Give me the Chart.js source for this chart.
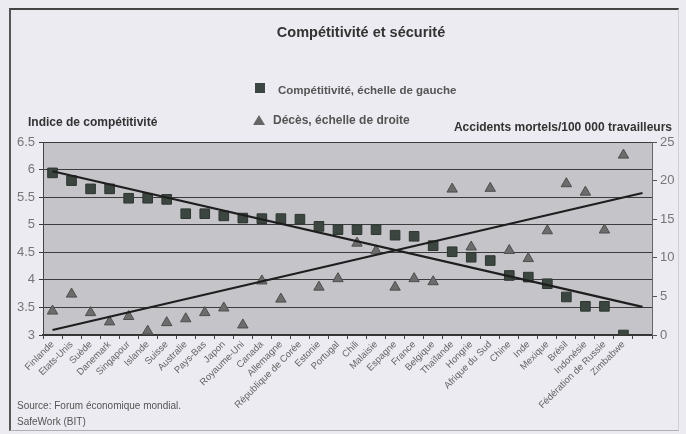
<!DOCTYPE html>
<html>
<head>
<meta charset="utf-8">
<script src="https://cdn.jsdelivr.net/npm/chart.js@4/dist/chart.umd.min.js"></script>
<style>
  html, body { margin: 0; padding: 0; background: #ebebf1; }
  #wrap { position: relative; width: 686px; height: 434px; }
  #frame { position: absolute; left: 9px; top: 8px; width: 667px; height: 420px;
           border-left: 2px solid #555; border-top: 2px solid #444;
           border-right: 1px solid #cfcfd4; border-bottom: 1px solid #b0b0b4; }
  canvas { position: absolute; left: 0; top: 0; }
</style>
</head>
<body>
<div id="wrap">
  <div id="frame"></div>
  <canvas id="myGraph" width="686" height="434"></canvas>
</div>
<script>
let countries = ['Finlande', 'Etats-Unis', 'Suède', 'Danemark', 'Singapour', 'Islande', 'Suisse',
  'Australie', 'Pays-Bas', 'Japon', 'Royaume-Uni', 'Canada', 'Allemagne', 'République de Corée',
  'Estonie', 'Portugal', 'Chili', 'Malaisie', 'Espagne', 'France', 'Belgique', 'Thaïlande',
  'Hongrie', 'Afrique du Sud', 'Chine', 'Inde', 'Mexique', 'Brésil', 'Indonésie',
  'Fédération de Russie', 'Zimbabwe', ''];

// indice de compétitivité (échelle de gauche)
let competitivite = [5.94, 5.80, 5.65, 5.65, 5.48, 5.48, 5.46, 5.20, 5.20, 5.16,
  5.12, 5.11, 5.11, 5.10, 4.97, 4.91, 4.91, 4.91, 4.81, 4.79, 4.62, 4.51,
  4.41, 4.35, 4.08, 4.05, 3.93, 3.69, 3.52, 3.52, 3.00];

// accidents mortels / 100 000 travailleurs (échelle de droite)
let deces = [3.1, 5.3, 2.9, 1.7, 2.4, 0.5, 1.6, 2.1, 2.9, 3.5,
  1.3, 7.0, 4.65, null, 6.2, 7.3, 11.9, 10.9, 6.2, 7.3, 6.9, 18.9,
  11.4, 19.0, 10.95, 9.9, 13.5, 19.6, 18.5, 13.6, 23.3];

// tendances linéaires : début et fin
let trendCompetitivite = [5.97, 3.51];
let trendDeces = [0.65, 18.4];

function trendLine(ends) {
  let arr = countries.map(() => null);
  arr[0] = ends[0];
  arr[arr.length - 1] = ends[1];
  return arr;
}

const FONT = '"Liberation Sans", Arial, sans-serif';

const decor = {
  id: 'decor',
  beforeDraw(chart) {
    const { ctx, chartArea: a } = chart;
    ctx.save();
    ctx.fillStyle = '#c4c4c9';
    ctx.fillRect(a.left, a.top, a.right - a.left, a.bottom - a.top);
    ctx.restore();
  },
  afterDraw(chart) {
    const ctx = chart.ctx;
    ctx.save();
    ctx.textBaseline = 'middle';
    // titre
    ctx.fillStyle = '#333';
    ctx.font = 'bold 14.5px ' + FONT;
    ctx.textAlign = 'center';
    ctx.fillText('Compétitivité et sécurité', 361, 33);
    // légende
    ctx.textAlign = 'left';
    ctx.fillStyle = '#3c4640';
    ctx.fillRect(255, 83, 10, 10);
    ctx.font = 'bold 11.5px ' + FONT;
    ctx.fillStyle = '#555';
    ctx.fillText('Compétitivité, échelle de gauche', 278, 91);
    ctx.fillStyle = '#666';
    ctx.beginPath();
    ctx.moveTo(259, 115); ctx.lineTo(265, 125); ctx.lineTo(253, 125); ctx.closePath();
    ctx.fill();
    ctx.fillStyle = '#555';
    ctx.font = 'bold 12px ' + FONT;
    ctx.fillText('Décès, échelle de droite', 273, 121);
    // titres des axes
    ctx.fillStyle = '#333';
    ctx.font = 'bold 12px ' + FONT;
    ctx.fillText('Indice de compétitivité', 28, 123);
    ctx.textAlign = 'right';
    ctx.fillText('Accidents mortels/100 000 travailleurs', 672, 128);
    // source
    ctx.textAlign = 'left';
    ctx.fillStyle = '#555';
    ctx.font = '10px ' + FONT;
    ctx.fillText('Source: Forum économique mondial.', 17, 406);
    ctx.fillText('SafeWork (BIT)', 17, 422);
    ctx.restore();
  }
};

const ctx = document.getElementById('myGraph').getContext('2d');
new Chart(ctx, {
  type: 'line',
  data: {
    labels: countries,
    datasets: [
      {
        label: 'Compétitivité, échelle de gauche',
        data: competitivite,
        yAxisID: 'y',
        showLine: false,
        pointStyle: 'rect',
        pointRadius: 6.8,
        backgroundColor: '#3c4640',
        borderColor: '#2e3630',
        borderWidth: 1,
        order: 2
      },
      {
        label: 'Décès, échelle de droite',
        data: deces,
        yAxisID: 'y1',
        showLine: false,
        pointStyle: 'triangle',
        pointRadius: 6,
        backgroundColor: '#6c6c6c',
        borderColor: '#4e4e4e',
        borderWidth: 1,
        order: 2
      },
      {
        label: 'tendance compétitivité',
        data: trendLine(trendCompetitivite),
        yAxisID: 'y',
        spanGaps: true,
        borderColor: '#1e1e1e',
        borderWidth: 2.2,
        pointRadius: 0,
        order: 1
      },
      {
        label: 'tendance décès',
        data: trendLine(trendDeces),
        yAxisID: 'y1',
        spanGaps: true,
        borderColor: '#1e1e1e',
        borderWidth: 2.2,
        pointRadius: 0,
        order: 1
      }
    ]
  },
  options: {
    responsive: false,
    animation: false,
    layout: { padding: { top: 142, left: 0, right: 0, bottom: 0 } },
    plugins: { legend: { display: false }, tooltip: { enabled: false } },
    scales: {
      x: {
        offset: true,
        afterFit: s => { s.height = 99; },
        grid: { offset: true, drawOnChartArea: false, color: '#444', tickLength: 4 },
        border: { color: '#333', width: 1.5 },
        ticks: {
          autoSkip: false, minRotation: 45, maxRotation: 45, padding: 0,
          color: '#666', font: { family: FONT, size: 9.5 }
        }
      },
      y: {
        position: 'left',
        min: 3, max: 6.5,
        afterFit: s => { s.width = 43; },
        grid: { color: '#3c3c3c', lineWidth: 1, tickLength: 4 },
        border: { color: '#444' },
        ticks: {
          stepSize: 0.5, padding: 4, color: '#777', font: { family: FONT, size: 13 },
          callback: v => String(v)
        }
      },
      y1: {
        position: 'right',
        min: 0, max: 25,
        afterFit: s => { s.width = 34; },
        grid: { drawOnChartArea: false, color: '#555', tickLength: 5 },
        border: { color: '#666' },
        ticks: { stepSize: 5, padding: 3, color: '#777', font: { family: FONT, size: 13 } }
      }
    }
  },
  plugins: [decor]
});
</script>
</body>
</html>
